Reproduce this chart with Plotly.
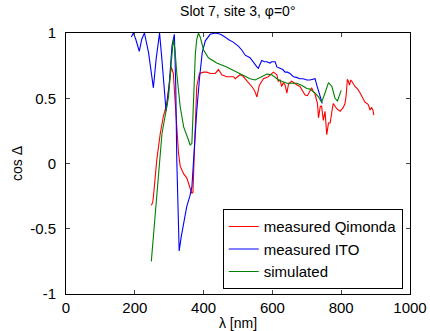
import plotly.graph_objects as go

# measured Qimonda (red)
red_wl = [248,252,255,259,264,274,283,293,301,306,312,317,322,327,332,342,351,361,366,369,373,376,380,388,400,409,420,434,443,453,467,477,487,492,506,514,521,530,540,548,555,562,574,588,603,613,617,622,627,632,637,642,647,656,666,673,680,688,695,702,709,714,719,723,727,731,734,739,743,748,753,758,763,768,773,777,787,797,806,811,814,818,821,824,828,831,840,848,855,862,869,875,879,884,888,892,895]
red_v = [-0.32,-0.30,-0.23,-0.10,0.03,0.23,0.36,0.46,0.64,0.74,0.69,0.51,0.26,0.08,-0.02,-0.08,-0.11,-0.20,-0.23,-0.22,0.03,0.33,0.59,0.69,0.70,0.70,0.69,0.69,0.72,0.68,0.665,0.665,0.665,0.65,0.68,0.67,0.65,0.62,0.59,0.56,0.51,0.60,0.65,0.665,0.70,0.68,0.63,0.64,0.59,0.62,0.60,0.54,0.61,0.63,0.61,0.60,0.59,0.55,0.525,0.52,0.55,0.58,0.55,0.54,0.50,0.46,0.35,0.435,0.44,0.33,0.40,0.22,0.31,0.31,0.40,0.46,0.42,0.40,0.43,0.46,0.51,0.645,0.63,0.60,0.64,0.63,0.59,0.57,0.54,0.51,0.47,0.46,0.45,0.41,0.43,0.41,0.37]

# measured ITO (blue)
blue_wl = [190,196,203,213,220,228,240,254,262,272,279,286,291,300,308,315,319,322,326,329,335,343,351,360,366,371,376,380,388,396,405,419,434,449,462,472,486,501,511,521,535,545,555,559,564,569,577,584,593,598,608,613,622,630,637,644,651,661,670,680,690,700,709,719,724,729,734,739,743,745]
blue_v = [0.97,1.0,0.95,0.86,0.95,1.0,0.85,0.58,0.8,1.0,0.79,0.55,0.40,0.6,0.9,0.99,0.6,0.03,-0.5,-0.67,-0.56,-0.45,-0.33,-0.25,-0.18,0.03,0.25,0.4,0.65,0.85,0.94,0.99,1.0,0.99,0.97,0.95,0.93,0.90,0.87,0.83,0.81,0.77,0.74,0.73,0.76,0.79,0.78,0.78,0.77,0.78,0.78,0.74,0.73,0.72,0.70,0.70,0.69,0.665,0.66,0.65,0.65,0.64,0.64,0.65,0.65,0.60,0.56,0.52,0.47,0.46]

# simulated (green)
green_wl = [248,259,268,274,279,288,298,306,312,317,322,332,342,356,361,366,371,376,380,385,390,400,414,438,467,497,506,535,550,569,584,598,618,642,671,685,700,709,724,734,743,753,763,773,782,789,797,800]
green_v = [-0.75,-0.39,-0.16,0.03,0.23,0.36,0.51,0.77,0.95,0.87,0.69,0.435,0.28,0.18,0.14,0.155,0.46,0.84,0.95,1.0,0.97,0.87,0.81,0.77,0.74,0.70,0.69,0.65,0.64,0.665,0.685,0.68,0.64,0.615,0.615,0.60,0.575,0.57,0.54,0.51,0.47,0.54,0.62,0.59,0.50,0.48,0.54,0.56]

x_ticks = [0, 200, 400, 600, 800, 1000]
y_ticks = [-1, -0.5, 0, 0.5, 1]
y_ticktext = ["-1", "-0.5", "0", "0.5", "1"]

fig = go.Figure()
fig.add_trace(go.Scatter(x=red_wl, y=red_v, mode="lines", name="measured Qimonda",
                         line=dict(color="#ff0000", width=1.1)))
fig.add_trace(go.Scatter(x=blue_wl, y=blue_v, mode="lines", name="measured ITO",
                         line=dict(color="#0000ff", width=1.1)))
fig.add_trace(go.Scatter(x=green_wl, y=green_v, mode="lines", name="simulated",
                         line=dict(color="#008000", width=1.1)))

font_family = "Liberation Sans, Arial, sans-serif"
fig.update_layout(
    width=430, height=331,
    margin=dict(l=66, r=20, t=33, b=37, autoexpand=False),
    paper_bgcolor="white", plot_bgcolor="white",
    font=dict(family=font_family, size=15, color="black"),
    title=dict(text="Slot 7, site 3, φ=0°", x=0.553, xanchor="center",
               y=0.966, yanchor="middle", font=dict(size=14)),
    showlegend=True,
    legend=dict(x=0.979, y=0.018, xanchor="right", yanchor="bottom",
                bgcolor="white", bordercolor="black", borderwidth=1,
                font=dict(size=15), itemwidth=30, tracegroupgap=0),
)
fig.update_xaxes(range=[0, 1000], tickvals=x_ticks, ticks="inside", ticklen=4,
                 showline=True, linecolor="black", linewidth=1, mirror="ticks",
                 showgrid=False, zeroline=False, automargin=False,
                 tickfont=dict(size=15),
                 title=dict(text="λ [nm]", standoff=3, font=dict(size=14)))
fig.update_yaxes(range=[-1, 1], tickvals=y_ticks, ticktext=y_ticktext,
                 ticks="inside", ticklen=4, ticklabelstandoff=6,
                 showline=True, linecolor="black", linewidth=1, mirror="ticks",
                 showgrid=False, zeroline=False, automargin=False,
                 tickfont=dict(size=15),
                 title=dict(text="cos Δ", standoff=4, font=dict(size=14)))

fig.write_html("out.html")
